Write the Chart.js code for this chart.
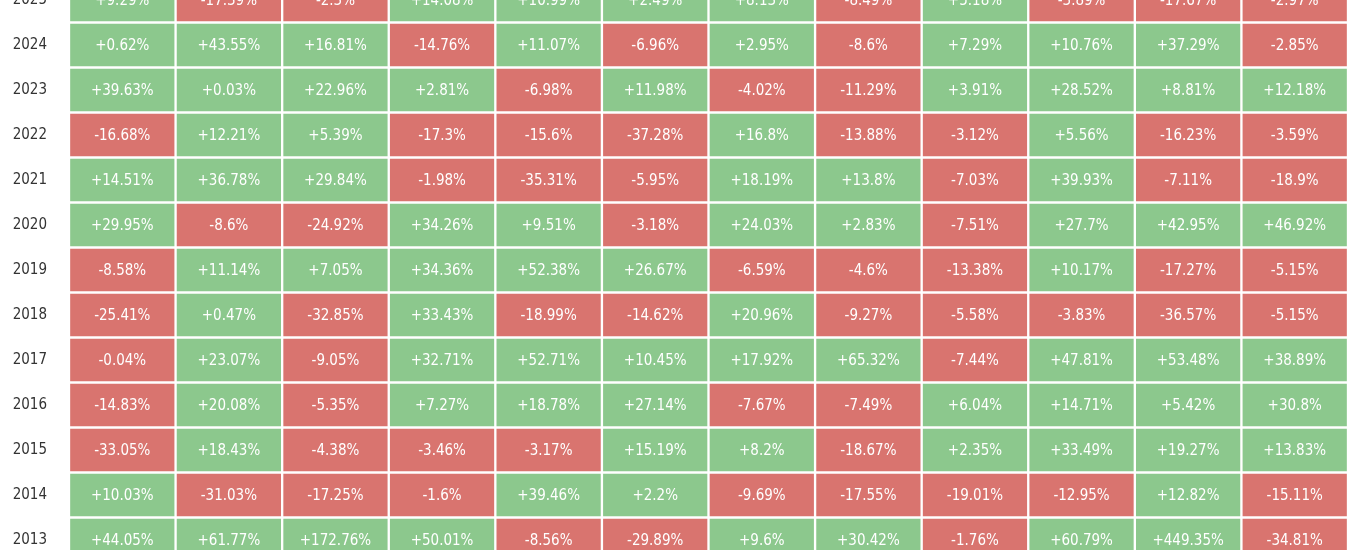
<!DOCTYPE html>
<html><head><meta charset="utf-8">
<script src="https://cdn.jsdelivr.net/npm/chart.js@4"></script>
<style>html,body{margin:0;padding:0;background:#fff;overflow:hidden;width:1370px;height:550px}</style>
</head><body><canvas id="c" width="1370" height="550" style="width:1370px;height:550px"></canvas>
<script>
const years=['2025','2024','2023','2022','2021','2020','2019','2018','2017','2016','2015','2014','2013'];
const months=['Jan','Feb','Mar','Apr','May','Jun','Jul','Aug','Sep','Oct','Nov','Dec'];
const returns=[
[9.29,-17.39,-2.3,14.08,10.99,2.49,8.13,-8.49,5.18,-3.89,-17.67,-2.97],
[0.62,43.55,16.81,-14.76,11.07,-6.96,2.95,-8.6,7.29,10.76,37.29,-2.85],
[39.63,0.03,22.96,2.81,-6.98,11.98,-4.02,-11.29,3.91,28.52,8.81,12.18],
[-16.68,12.21,5.39,-17.3,-15.6,-37.28,16.8,-13.88,-3.12,5.56,-16.23,-3.59],
[14.51,36.78,29.84,-1.98,-35.31,-5.95,18.19,13.8,-7.03,39.93,-7.11,-18.9],
[29.95,-8.6,-24.92,34.26,9.51,-3.18,24.03,2.83,-7.51,27.7,42.95,46.92],
[-8.58,11.14,7.05,34.36,52.38,26.67,-6.59,-4.6,-13.38,10.17,-17.27,-5.15],
[-25.41,0.47,-32.85,33.43,-18.99,-14.62,20.96,-9.27,-5.58,-3.83,-36.57,-5.15],
[-0.04,23.07,-9.05,32.71,52.71,10.45,17.92,65.32,-7.44,47.81,53.48,38.89],
[-14.83,20.08,-5.35,7.27,18.78,27.14,-7.67,-7.49,6.04,14.71,5.42,30.8],
[-33.05,18.43,-4.38,-3.46,-3.17,15.19,8.2,-18.67,2.35,33.49,19.27,13.83],
[10.03,-31.03,-17.25,-1.6,39.46,2.2,-9.69,-17.55,-19.01,-12.95,12.82,-15.11],
[44.05,61.77,172.76,50.01,-8.56,-29.89,9.6,30.42,-1.76,60.79,449.35,-34.81]
];
const GREEN='#8cc88d', RED='#d9746f';
const fmt=v=>(v>=0?'+':'')+v+'%';
const datasets=months.map((m,j)=>({
  label:m,
  data:years.map(()=>1),
  vals:returns.map(r=>r[j]),
  backgroundColor:returns.map(r=>r[j]>=0?GREEN:RED),
  borderColor:'#fff',borderWidth:1.5,borderSkipped:false,clip:false,
  categoryPercentage:1,barPercentage:1
}));
const shiftPlugin={id:'shift',afterLayout(ch){
  const s=ch.scales.y; s.top=-22.5; s.bottom=562.5; s.height=585; s.configure();
}};
const labelPlugin={id:'lbl',afterDatasetsDraw(ch){
  const ctx=ch.ctx;ctx.save();ctx.fillStyle='#fff';ctx.font='15px "DejaVu Sans Condensed", Roboto, sans-serif';
  ctx.textAlign='center';ctx.textBaseline='middle';
  ch.data.datasets.forEach((ds,i)=>{ch.getDatasetMeta(i).data.forEach((b,k)=>{
    const p=b.getProps(['x','base','y'],true);
    ctx.fillText(fmt(ds.vals[k]),(p.x+p.base)/2,p.y+1);});});
  ctx.restore();}};
new Chart(document.getElementById('c'),{
  type:'bar',
  data:{labels:years,datasets},
  options:{indexAxis:'y',responsive:false,animation:false,devicePixelRatio:1,
    layout:{padding:{left:0,right:22,top:0,bottom:0}},
    plugins:{legend:{display:false},tooltip:{enabled:false}},
    scales:{
      x:{stacked:true,display:false,min:0,max:12},
      y:{stacked:true,grid:{display:false},border:{display:false},
        afterFit(s){s.width=69;},
        ticks:{color:'#333',font:{size:15,family:'"DejaVu Sans Condensed", sans-serif'},padding:14}}
    }},
  plugins:[shiftPlugin,labelPlugin]
});
</script></body></html>
